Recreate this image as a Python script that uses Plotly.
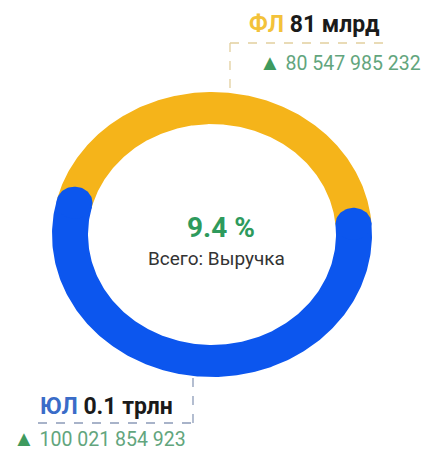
import numpy as np
import plotly.graph_objects as go

# ---- data ----
labels = ["ФЛ", "ЮЛ"]
values = [80547985232, 100021854923]
short_values = ["81 млрд", "0.1 трлн"]
colors = ["#F5B41A", "#0C56EE"]
label_colors = ["#F3C23A", "#3A6CC8"]
center_value = "9.4 %"
center_label = "Всего: Выручка"

# ---- geometry / style ----
W, H = 429, 455
R_OUT, R_IN = 1.0, 0.775
START = 165.45  # degrees, first slice starts here going clockwise
X_DOM = [52 / W, 372 / W]
Y_DOM = [(H - 377) / H, (H - 92) / H]


def px(x):
    return x / W


def py(y):
    return 1 - y / H


def fmt(v):
    return f"{v:,}".replace(",", " ")


fig = go.Figure()
total = sum(values)
angle = START
ends = []
for lab, v, c in zip(labels, values, colors):
    span = 360.0 * v / total
    a0, a1 = angle, angle - span
    th = np.radians(np.linspace(a0, a1, 240))
    xs = np.concatenate([R_OUT * np.cos(th), R_IN * np.cos(th[::-1])])
    ys = np.concatenate([R_OUT * np.sin(th), R_IN * np.sin(th[::-1])])
    fig.add_trace(go.Scatter(x=xs, y=ys, fill="toself", fillcolor=c, mode="lines",
                             line=dict(width=0, color=c), hoverinfo="text",
                             text=f"{lab}: {fmt(v)}", showlegend=False))
    ends.append((a0, a1, c))
    angle = a1

# rounded caps on the last (blue) segment
rm = (R_OUT + R_IN) / 2
rc = (R_OUT - R_IN) / 2
a0, a1, c = ends[-1]
t = np.linspace(0, 2 * np.pi, 80)
for a in (a0, a1):
    ar = np.radians(a)
    fig.add_trace(go.Scatter(x=rm * np.cos(ar) + rc * np.cos(t), y=rm * np.sin(ar) + rc * np.sin(t),
                             fill="toself", fillcolor=c, mode="lines", line=dict(width=0, color=c),
                             hoverinfo="skip", showlegend=False))

font = "Roboto"
P = dict(xref="paper", yref="paper", showarrow=False, xanchor="center", yanchor="middle")
TRI = "<span style='color:#3E9A5E;font-size:22px'>▲</span>"
ann = []
# center
ann.append(dict(P, x=px(221), y=py(227), text=f"<b>{center_value}</b>",
                font=dict(family=font, size=28, color="#2E9A5C")))
ann.append(dict(P, x=px(216), y=py(258), text=center_label,
                font=dict(family=font, size=19, color="#333333")))
# top label (ФЛ)
ann.append(dict(P, x=px(314), y=py(24),
                text=f"<b><span style='color:{label_colors[0]}'>{labels[0]}</span> {short_values[0]}</b>",
                font=dict(family=font, size=23, color="#1A1A1A")))
ann.append(dict(P, x=px(340), y=py(63), text=f"{TRI} {fmt(values[0])}",
                font=dict(family=font, size=19.5, color="#62A57D")))
# bottom label (ЮЛ)
ann.append(dict(P, x=px(106), y=py(406),
                text=f"<b><span style='color:{label_colors[1]}'>{labels[1]}</span> {short_values[1]}</b>",
                font=dict(family=font, size=23, color="#1A1A1A")))
ann.append(dict(P, x=px(99), y=py(438), text=f"{TRI} {fmt(values[1])}",
                font=dict(family=font, size=19.5, color="#62A57D")))

shapes = [
    dict(type="line", xref="paper", yref="paper", x0=px(230), x1=px(385), y0=py(43), y1=py(43),
         line=dict(color="#E2CF9E", width=1.3, dash="dash")),
    dict(type="line", xref="paper", yref="paper", x0=px(230), x1=px(230), y0=py(43), y1=py(92),
         line=dict(color="#E2CF9E", width=1.3, dash="dash")),
    dict(type="line", xref="paper", yref="paper", x0=px(38), x1=px(193), y0=py(423), y1=py(423),
         line=dict(color="#8C9BB8", width=1.3, dash="dash")),
    dict(type="line", xref="paper", yref="paper", x0=px(193), x1=px(193), y0=py(423), y1=py(377),
         line=dict(color="#8C9BB8", width=1.3, dash="dash")),
]

fig.update_layout(
    width=W, height=H, autosize=False,
    margin=dict(l=0, r=0, t=0, b=0, pad=0),
    paper_bgcolor="white", plot_bgcolor="white",
    xaxis=dict(domain=X_DOM, range=[-1.0, 1.0], visible=False, fixedrange=True),
    yaxis=dict(domain=Y_DOM, range=[-1.0, 1.0], visible=False, fixedrange=True),
    annotations=ann, shapes=shapes,
)

fig.write_html("out.html", config={"displayModeBar": False},
               post_script="document.body.style.margin='0';document.body.style.overflow='hidden';")
